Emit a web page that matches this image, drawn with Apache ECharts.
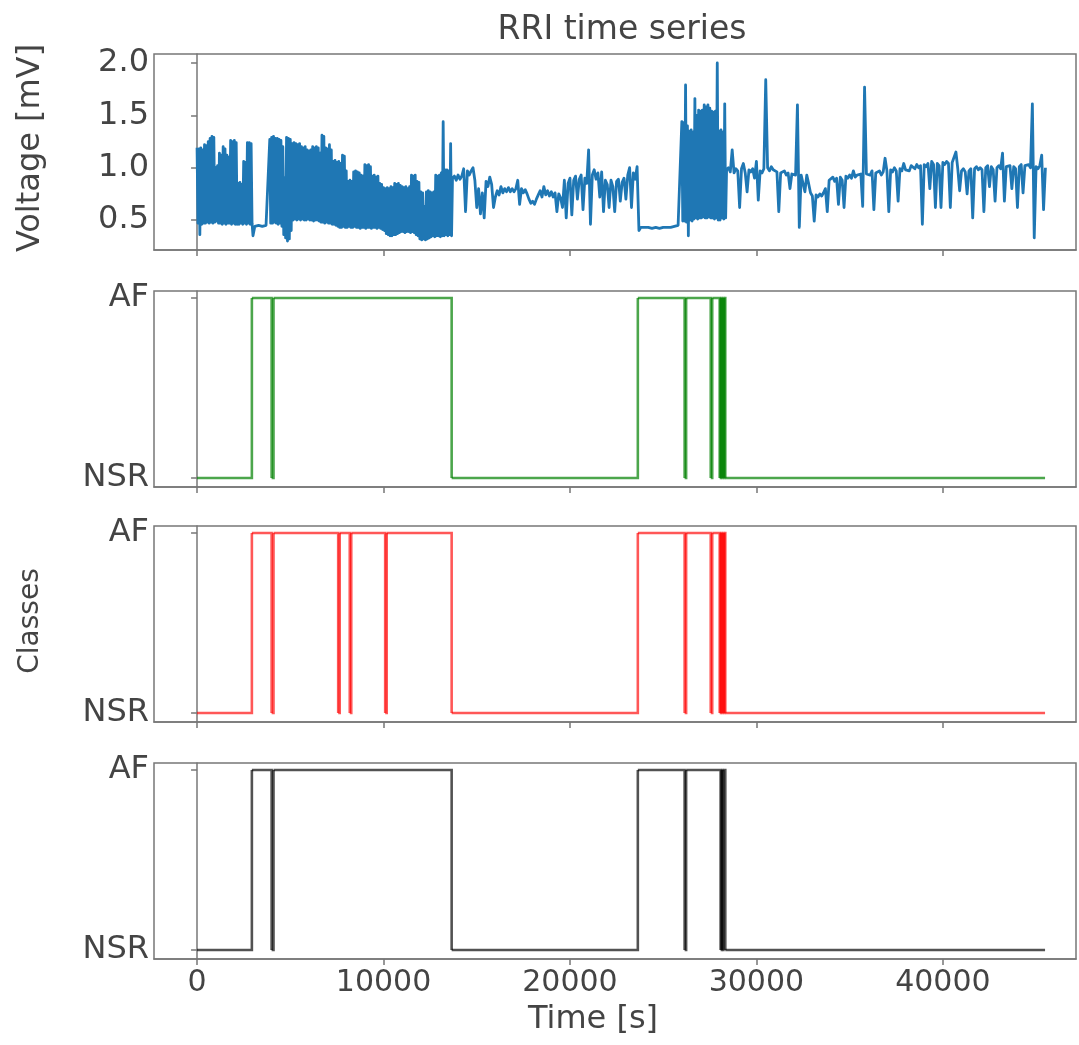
<!DOCTYPE html>
<html>
<head>
<meta charset="utf-8">
<script src="https://cdn.jsdelivr.net/npm/echarts@6/dist/echarts.min.js"></script>
<style>
html,body{margin:0;padding:0;background:#fff;}
#chart{width:1079px;height:1045px;}
</style>
</head>
<body>
<div id="chart"></div>
<script>
// ---------------- data ----------------
// Voltage [mV], piece by piece. Each piece: first time [s], spacing [s], values.
// AF pieces alternate beat-to-beat highs and lows (dense 50 s spacing), quiet pieces use 100 s spacing.
const afBlock1Start = 0, afBlock1Step = 50;
const afBlock1 = [
  1.19,0.47, 1.18,0.36, 1.19,0.46, 1.17,0.47, 1.22,0.47, 1.21,0.48, 1.25,0.47, 1.28,0.48, 1.30,0.47, 1.29,0.48,
  1.00,0.49, 1.02,0.47, 1.14,0.47, 1.12,0.46, 1.20,0.47, 1.18,0.46, 1.12,0.47, 1.10,0.47, 1.26,0.46, 1.25,0.47,
  1.26,0.46, 1.24,0.46, 0.85,0.46, 0.86,0.47, 0.84,0.46, 1.06,0.47, 1.05,0.46, 1.24,0.47, 1.24,0.46, 1.23,0.47
];
const quietAStart = 3000, quietAStep = 100;
const quietA = [0.35,0.44,0.44,0.45,0.44,0.44,0.44,0.45,0.44];
const afBlock2Start = 3900, afBlock2Step = 50;
const afBlock2 = [
  1.27,0.47, 1.29,0.47, 1.30,0.48, 1.28,0.47, 1.28,0.46, 1.27,0.47, 1.26,0.44, 1.20,0.36, 0.90,0.33, 1.29,0.30,
  1.28,0.32, 1.27,0.40, 1.23,0.50, 1.24,0.51, 1.23,0.50, 1.22,0.51, 1.23,0.50, 1.20,0.51, 1.19,0.50, 1.20,0.50,
  1.17,0.51, 1.16,0.50, 1.17,0.50, 1.20,0.49, 1.19,0.50, 1.20,0.50, 1.19,0.49, 1.14,0.48, 1.31,0.48, 1.30,0.47,
  1.19,0.48, 1.18,0.47, 1.22,0.47, 1.17,0.46, 1.06,0.46, 1.07,0.45, 1.05,0.44, 1.06,0.43, 1.04,0.43, 1.12,0.44,
  1.11,0.43, 0.97,0.43, 0.87,0.44, 0.88,0.43, 0.87,0.43, 0.96,0.44, 0.97,0.43, 0.96,0.43, 0.95,0.42, 0.93,0.43,
  0.92,0.43, 1.03,0.42, 1.02,0.43, 1.03,0.43, 1.01,0.42, 0.92,0.43, 0.93,0.43, 0.91,0.42, 0.92,0.43, 0.85,0.42,
  0.84,0.41, 0.81,0.40, 0.80,0.37, 0.81,0.36, 0.80,0.35, 0.82,0.35, 0.81,0.36, 0.85,0.36, 0.84,0.37, 0.85,0.38,
  0.83,0.39, 0.82,0.39, 0.81,0.38, 0.82,0.39, 0.80,0.39, 0.82,0.38, 0.93,0.39, 0.92,0.38, 0.93,0.36, 0.87,0.35,
  0.86,0.32, 0.77,0.31, 0.76,0.32, 0.63,0.31, 0.77,0.32, 0.78,0.33, 0.77,0.34, 0.76,0.35, 0.77,0.34, 0.93,0.35,
  0.92,0.35, 0.93,0.34, 0.95,0.35, 1.44,0.35, 0.98,0.36, 0.98,0.35, 0.97,0.36, 1.23,0.35
];
const quietBStart = 13700, quietBStep = 100;
const quietB = [
  0.90,0.92,0.88,
  0.93,0.89,0.92,0.99,0.58,0.97,0.93,0.97,1.00,0.88,
  0.62,0.80,0.56,0.76,0.52,0.87,0.82,0.91,0.84,0.62,
  0.72,0.78,0.74,0.82,0.76,0.80,0.77,0.81,0.77,0.80,
  0.77,0.80,0.88,0.65,0.80,0.76,0.79,0.75,0.70,0.66,
  0.68,0.65,0.70,0.74,0.78,0.72,0.82,0.74,0.78,0.73,
  0.77,0.72,0.76,0.58,0.75,0.71,0.62,0.88,0.52,0.85,
  0.90,0.55,0.88,0.92,0.70,0.89,0.93,0.60,0.90,0.85,
  1.17,0.46,0.93,0.98,0.89,0.95,0.72,0.96,0.58,0.88,
  0.84,0.62,0.88,0.82,0.58,0.87,0.89,0.68,0.86,0.90,
  0.70,0.93,1.00,0.62,0.95,0.89,1.01,0.40,0.43,0.42,
  0.43,0.42,0.43,0.43,0.42,0.43,0.43,0.43,0.42,0.43,
  0.43,0.43,0.43,0.42,0.43,0.43,0.44,0.44,0.45,0.46
];
const afBlock3Start = 26000, afBlock3Step = 50;
const afBlock3 = [
  1.44,0.49, 1.43,0.49, 1.79,0.48, 1.40,0.35, 1.35,0.50, 1.36,0.49, 1.34,0.51, 1.66,0.52, 1.50,0.51, 1.55,0.52,
  1.54,0.52, 1.55,0.53, 1.60,0.52, 1.58,0.52, 1.60,0.53, 1.57,0.52, 1.54,0.52, 1.53,0.51, 1.54,0.52, 2.00,0.50,
  1.35,0.50, 1.36,0.52, 1.34,0.51, 1.61,0.52
];
const quietCStart = 28400, quietCStep = 100;
const quietC = [
  0.98,1.00,0.96,1.17,0.95,0.99,
  0.97,0.62,0.99,1.04,0.95,0.77,0.98,0.96,0.99,0.90,
  1.06,0.69,0.97,0.95,0.99,1.84,1.00,0.97,1.01,0.98,
  0.99,0.96,0.58,0.95,0.94,0.97,0.93,0.95,0.80,0.94,
  0.95,0.93,1.60,0.43,0.93,0.92,0.77,0.93,0.85,0.76,
  0.73,0.49,0.74,0.72,0.75,0.73,0.76,0.80,0.58,0.88,
  0.89,0.91,0.87,0.90,0.65,0.91,0.88,0.62,0.92,0.90,
  0.93,0.90,0.97,0.91,0.93,0.92,0.94,0.63,1.77,0.94,
  0.95,0.93,0.97,0.60,0.95,0.94,0.97,0.93,0.96,1.09,
  0.97,0.58,0.98,0.96,1.00,0.97,0.68,0.99,0.97,1.04,
  0.98,0.99,0.97,1.02,1.01,0.99,1.03,1.00,1.02,0.46,
  1.03,1.01,1.04,0.80,1.06,1.03,0.62,1.04,1.02,0.62,
  1.05,1.03,1.06,1.04,0.62,1.05,1.04,1.15,0.99,0.78,
  0.97,0.99,0.96,0.75,0.97,0.99,0.52,0.99,1.01,0.98,
  1.00,0.98,0.58,1.00,1.02,0.82,1.01,0.98,0.68,1.00,
  1.02,0.99,1.14,0.68,1.01,1.00,1.02,0.80,1.01,0.99,
  0.62,1.01,1.03,0.76,1.02,1.01,1.03,1.00,1.61,0.33,
  1.01,0.99,1.02,1.12,0.60,1.00
];

// Class series: times [s] where the class changes, and the class from that time on (0 = NSR, 1 = AF)
const greenTimes  = [0, 2940, 4000, 4100, 13655, 23640, 26150, 26230, 27550, 27630, 28030, 28080, 28130, 28180, 28230, 28280, 28330, 45480];
const greenStates = [0, 1,    0,    1,    0,     1,     0,     1,     0,     1,     0,     1,     0,     1,     0,     1,     0,     0];
const redTimes    = [0, 2940, 4000, 4100, 7570, 7650, 8190, 8270, 10090, 10170, 13655, 23640, 26150, 26230, 27550, 27630, 28030, 28080, 28130, 28180, 28230, 28280, 28330, 45480];
const redStates   = [0, 1,    0,    1,    0,    1,    0,    1,    0,     1,     0,     1,     0,     1,     0,     1,     0,     1,     0,     1,     0,     1,     0,     0];
const blackTimes  = [0, 2940, 4000, 4100, 13655, 23640, 26150, 26230, 28080, 28130, 28180, 28230, 28330, 45480];
const blackStates = [0, 1,    0,    1,    0,     1,     0,     1,     0,     1,     0,     1,     0,     0];

const classLabels = ['NSR', 'AF'];
const voltageTicks = [0.5, 1.0, 1.5, 2.0];
const timeTicks = [0, 10000, 20000, 30000, 40000];

// ---------------- chart ----------------
function piece(start, step, values) { return values.map((v, i) => [start + i * step, v]); }
const voltageData = [].concat(
  piece(afBlock1Start, afBlock1Step, afBlock1),
  piece(quietAStart, quietAStep, quietA),
  piece(afBlock2Start, afBlock2Step, afBlock2),
  piece(quietBStart, quietBStep, quietB),
  piece(afBlock3Start, afBlock3Step, afBlock3),
  piece(quietCStart, quietCStep, quietC)
);

const chart = echarts.init(document.getElementById('chart'), null, {renderer: 'canvas'});

const FRAME = '#777';
const TXT = '#444';
const FONT = '"DejaVu Sans", Verdana, sans-serif';

const gridTops = [54, 291, 526, 763];
const grids = gridTops.map(t => ({
  left: 154, top: t, width: 922, height: 196,
  show: true, borderColor: FRAME, borderWidth: 1.5, backgroundColor: 'transparent'
}));

const xAxes = gridTops.map((t, i) => ({
  type: 'value', gridIndex: i, min: -2309, max: 47140,
  axisLine: {show: true, onZero: false, lineStyle: {color: FRAME, width: 1.5}},
  axisTick: {show: true, customValues: timeTicks, length: 6, lineStyle: {color: FRAME, width: 1.5}},
  axisLabel: {show: i === 3, customValues: timeTicks, formatter: v => String(v), color: TXT, fontSize: 30, fontFamily: FONT, margin: 9},
  splitLine: {show: false}
}));

const yAxes = [{
  type: 'value', gridIndex: 0, min: 0.214, max: 2.086,
  axisLine: {show: true, lineStyle: {color: FRAME, width: 1.5}},
  axisTick: {show: true, customValues: voltageTicks, length: 6, lineStyle: {color: FRAME, width: 1.5}},
  axisLabel: {customValues: voltageTicks, formatter: v => v.toFixed(1), color: TXT, fontSize: 32, fontFamily: FONT, margin: 5},
  splitLine: {show: false}
}];
for (let i = 1; i < 4; i++) {
  yAxes.push({
    type: 'value', gridIndex: i, min: -0.05, max: 1.039,
    axisLine: {show: true, lineStyle: {color: FRAME, width: 1.5}},
    axisTick: {show: true, customValues: [0, 1], length: 6, lineStyle: {color: FRAME, width: 1.5}},
    axisLabel: {customValues: [0, 1], formatter: v => classLabels[Math.round(v)], color: TXT, fontSize: 32, fontFamily: FONT, margin: 5},
    splitLine: {show: false}
  });
}

function stepSegments(times, states) {
  const items = [];
  for (let i = 0; i < times.length - 1; i++) {
    items.push({coords: [[times[i], states[i]], [times[i + 1], states[i]], [times[i + 1], states[i + 1]]]});
  }
  return items;
}

function classSeries(idx, times, states, color, opacity) {
  return {
    type: 'lines', coordinateSystem: 'cartesian2d', xAxisIndex: idx, yAxisIndex: idx,
    polyline: true, silent: true,
    data: stepSegments(times, states),
    lineStyle: {color: color, width: 2.6, opacity: opacity, curveness: 0}
  };
}

const option = {
  backgroundColor: '#fff',
  animation: false,
  grid: grids,
  xAxis: xAxes,
  yAxis: yAxes,
  series: [
    {
      type: 'line', xAxisIndex: 0, yAxisIndex: 0,
      data: voltageData,
      showSymbol: false, symbol: 'none', sampling: null,
      lineStyle: {color: '#1f77b4', width: 2.8, join: 'round'},
      silent: true
    },
    classSeries(1, greenTimes, greenStates, '#008000', 0.7),
    classSeries(2, redTimes, redStates, '#ff0000', 0.66),
    classSeries(3, blackTimes, blackStates, '#000000', 0.68)
  ],
  graphic: [
    {type: 'text', x: 622, y: 30, style: {text: 'RRI time series', fill: TXT, font: '33px ' + FONT, align: 'center', verticalAlign: 'middle'}},
    {type: 'text', x: 31, y: 148, rotation: Math.PI / 2, style: {text: 'Voltage [mV]', fill: TXT, font: '32px ' + FONT, align: 'center', verticalAlign: 'middle'}},
    {type: 'text', x: 31, y: 621, rotation: Math.PI / 2, style: {text: 'Classes', fill: TXT, font: '28px ' + FONT, align: 'center', verticalAlign: 'middle'}},
    {type: 'text', x: 593, y: 1020, style: {text: 'Time [s]', fill: TXT, font: '32px ' + FONT, align: 'center', verticalAlign: 'middle'}}
  ]
};

chart.setOption(option);
</script>
</body>
</html>
